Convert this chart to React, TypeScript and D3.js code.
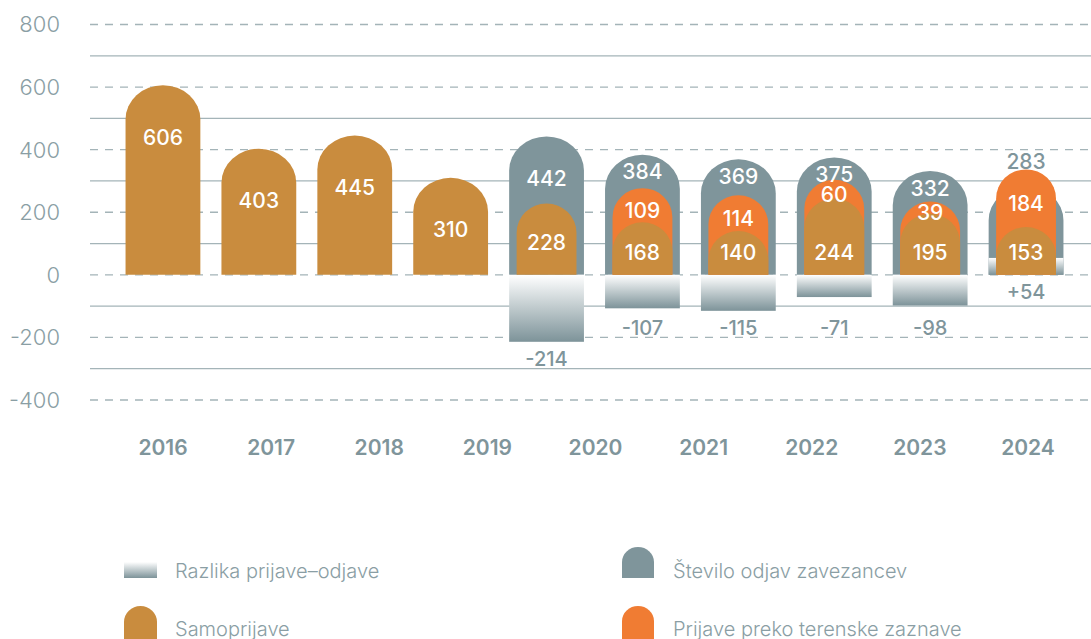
import * as d3 from 'd3';
import React from 'react';

// chart data
const years = ['2016', '2017', '2018', '2019', '2020', '2021', '2022', '2023', '2024'];
const samoprijave = [606, 403, 445, 310, 228, 168, 140, 244, 195, 153];
const terenske = [0, 0, 0, 0, 0, 109, 114, 60, 39, 184];
const odjave: (number | null)[] = [null, null, null, null, 442, 384, 369, 375, 332, 283];
const razlika: (number | null)[] = [null, null, null, null, -214, -107, -115, -71, -98, 54];
const yTicks = [-400, -200, 0, 200, 400, 600, 800];
const legendNames = ['Razlika prijave\u2013odjave', 'Število odjav zavezancev', 'Samoprijave', 'Prijave preko terenske zaznave'];

const width = 1091;
const height = 639;
const FONT = 'Inter, "Noto Sans", sans-serif';
const CAMEL = '#c98c3e';
const ORANGE = '#f07c33';
const GRAY = '#7f959b';
const GRID = '#a4b4b8';
const TEXT = '#8a9ea4';

// rounded-top bar
const capPath = (x0: number, w: number, yTop: number, yBase: number, ry: number) => {
  const r = Math.min(ry, yBase - yTop);
  return `M${x0},${yBase}V${yTop + r}A${w / 2},${r} 0 0 1 ${x0 + w},${yTop + r}V${yBase}Z`;
};

const App = () => {
  const idx = d3.range(samoprijave.length);

  const x = d3.scaleBand<number>()
    .domain(idx)
    .range([115, 1074])
    .paddingInner(0.22)
    .paddingOuter(0.11);

  const xYear = d3.scalePoint<string>()
    .domain(years)
    .range([163, 1028]);

  const y = d3.scaleLinear()
    .domain([-400, 800])
    .range([400, 24.5]);

  const bw = x.bandwidth();
  const inset = bw * 0.1;
  const iw = bw - inset * 2;
  const zero = y(0);

  const grid = d3.range(-400, 801, 100);

  return (
    <svg width={width} height={height} style={{ position: 'absolute', left: 0, top: 0, fontFamily: FONT }}>
      <defs>
        <linearGradient id="diffGrad" x1="0" y1="0" x2="0" y2="1">
          <stop offset="0" stopColor="#ffffff" />
          <stop offset="1" stopColor="#7d9399" />
        </linearGradient>
      </defs>

      {/* gridlines */}
      {grid.map(v => (
        <line key={v} x1={90} x2={width} y1={y(v)} y2={y(v)}
          stroke={GRID} strokeWidth={1.3}
          strokeDasharray={v % 200 === 0 ? '8,7' : undefined} />
      ))}

      {/* y tick labels */}
      {yTicks.map(v => (
        <text key={v} x={60} y={y(v)} dy="0.36em" textAnchor="end"
          fontSize={22} fontWeight={300} fill={TEXT}>{v}</text>
      ))}

      {/* bars */}
      {idx.map(i => {
        const x0 = x(i)!;
        const cx = x0 + bw / 2;
        const odj = odjave[i];
        const diff = razlika[i];
        const s = samoprijave[i];
        const t = terenske[i];
        const els: React.ReactNode[] = [];

        if (odj == null) {
          els.push(<path key="s" d={capPath(x0, bw, y(s), zero, 34)} fill={CAMEL} />);
          els.push(<text key="sl" x={cx} y={y(s) + 52} dy="0.36em" textAnchor="middle"
            fontSize={21} fontWeight={500} fill="#fff">{s}</text>);
          return <g key={i}>{els}</g>;
        }

        els.push(<path key="o" d={capPath(x0, bw, y(odj), zero, 34)} fill={GRAY} />);
        if (diff != null) {
          const y0 = Math.min(y(diff), zero);
          const h = Math.abs(y(diff) - zero);
          els.push(<rect key="d" x={x0} y={y0} width={bw} height={h} fill="url(#diffGrad)" />);
        }
        if (t > 0) {
          els.push(<path key="t" d={capPath(x0 + inset, iw, y(s + t), zero, 29)} fill={ORANGE} />);
        }
        els.push(<path key="s" d={capPath(x0 + inset, iw, y(s), zero, 29)} fill={CAMEL} />);

        // labels
        const sy = t > 0 ? y(70) : (y(s) + zero) / 2 + 3;
        els.push(<text key="sl" x={cx} y={sy} dy="0.36em" textAnchor="middle"
          fontSize={21} fontWeight={500} fill="#fff">{s}</text>);
        if (t > 0) {
          els.push(<text key="tl" x={cx} y={(y(s + t) + y(s)) / 2 + 5} dy="0.36em" textAnchor="middle"
            fontSize={21} fontWeight={500} fill="#fff">{t}</text>);
        }
        const innerTop = y(s + t);
        let oy: number;
        let ofill = '#fff';
        if (t === 0) oy = (y(odj) + innerTop) / 2 + 8;
        else if (innerTop < y(odj) + 10) { oy = y(odj) - 25; ofill = GRAY; }
        else oy = y(odj) + 17;
        els.push(<text key="ol" x={cx} y={oy} dy="0.36em" textAnchor="middle"
          fontSize={21} fontWeight={500} fill={ofill}>{odj}</text>);

        if (diff != null) {
          const dy = diff < 0 ? Math.max(y(diff) + 17, y(-170)) : zero + 17;
          els.push(<text key="dl" x={cx} y={dy} dy="0.36em" textAnchor="middle"
            fontSize={20} fontWeight={500} fill={GRAY}>{diff > 0 ? `+${diff}` : diff}</text>);
        }
        return <g key={i}>{els}</g>;
      })}

      {/* year labels */}
      {years.map(yr => (
        <text key={yr} x={xYear(yr)} y={447} dy="0.36em" textAnchor="middle"
          fontSize={21} fontWeight={600} fill={GRAY}>{yr}</text>
      ))}

      {/* legend */}
      <g>
        <rect x={124} y={562} width={33} height={16} fill="url(#diffGrad)" />
        <text x={175} y={571} dy="0.36em" fontSize={20} fontWeight={300} fill={TEXT}>{legendNames[0]}</text>

        <path d={capPath(622, 32, 547, 578, 15)} fill={GRAY} />
        <text x={673} y={571} dy="0.36em" fontSize={20} fontWeight={300} fill={TEXT}>{legendNames[1]}</text>

        <path d={capPath(124, 33, 606, 645, 16)} fill={CAMEL} />
        <text x={175} y={629} dy="0.36em" fontSize={20} fontWeight={300} fill={TEXT}>{legendNames[2]}</text>

        <path d={capPath(622, 32, 606, 645, 15)} fill={ORANGE} />
        <text x={673} y={629} dy="0.36em" fontSize={20} fontWeight={300} fill={TEXT}>{legendNames[3]}</text>
      </g>
    </svg>
  );
};

export default App;
